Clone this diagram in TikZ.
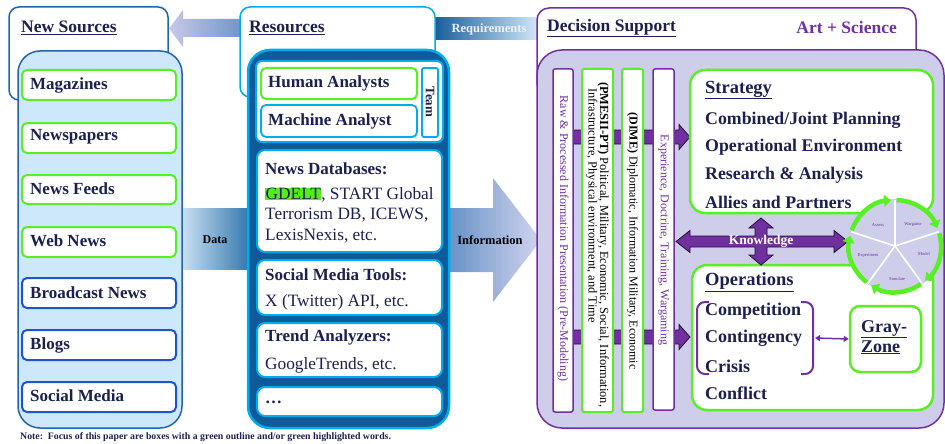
\documentclass[tikz,border=0pt]{standalone}
\usepackage{fontspec}
\setmainfont{Liberation Serif}
\usetikzlibrary{arrows.meta}
\definecolor{navy}{RGB}{28,32,78}
\definecolor{grn}{RGB}{88,240,36}
\definecolor{hlgreen}{RGB}{80,240,20}
\definecolor{purp}{RGB}{112,48,160}
\definecolor{lav}{RGB}{206,206,234}
\definecolor{lblue}{RGB}{204,232,250}
\definecolor{nsblue}{RGB}{36,100,170}
\definecolor{itblue}{RGB}{30,85,200}
\definecolor{resdark}{RGB}{15,90,155}
\definecolor{cyanb}{RGB}{0,172,236}
\definecolor{arrowL}{RGB}{200,200,232}
\definecolor{arrowR}{RGB}{110,150,200}
\definecolor{reqL}{RGB}{22,92,152}
\definecolor{reqR}{RGB}{212,232,248}
\definecolor{dataL}{RGB}{205,228,246}
\definecolor{dataR}{RGB}{50,118,172}
\definecolor{infoL}{RGB}{100,145,198}
\definecolor{infoR}{RGB}{212,212,238}
\begin{document}
\begin{tikzpicture}[x=1pt,y=-1pt,
  bt/.style={font=\fontsize{17}{18}\selectfont\bfseries, text=navy, anchor=west, inner sep=0pt},
  wt/.style={font=\fontsize{17.8}{20}\selectfont\bfseries, text=navy, anchor=west, inner sep=0pt},
  rt/.style={font=\fontsize{17.3}{18}\selectfont, text=navy, anchor=west, inner sep=0pt},
  ttl/.style={font=\fontsize{17.5}{19}\selectfont\bfseries, text=navy, anchor=west, inner sep=0pt},
  lbl/.style={font=\fontsize{12.5}{14}\selectfont\bfseries, inner sep=0pt},
  vt/.style={font=\fontsize{12}{11.5}\selectfont, rotate=-90, inner sep=0pt},
  gbox/.style={draw=grn, line width=2pt, fill=white, rounded corners=5pt},
  bbox/.style={draw=itblue, line width=2pt, fill=white, rounded corners=5pt},
  cbox/.style={draw=cyanb, line width=1.8pt, fill=white, rounded corners=5pt},
  rbox/.style={draw=cyanb, line width=2pt, fill=white, rounded corners=8pt},
  pbar/.style={draw=purp, line width=1.5pt, fill=white, rounded corners=2pt},
  gbar/.style={draw=grn, line width=2pt, fill=white, rounded corners=2pt},
  parrow/.style={fill=purp, draw=black!70!purp, line width=0.8pt},
  tiny/.style={font=\fontsize{4.5}{5}\selectfont, text=purp, inner sep=0pt},
]
\useasboundingbox (0,0) rectangle (945,444);

% ---- gradient arrows in the background
\shade[left color=arrowL, right color=arrowR] (169,28.5) -- (183,10) -- (183,19) -- (242,19) -- (242,37) -- (183,37) -- (183,47) -- cycle;
\shade[left color=reqL, right color=reqR] (433,18) rectangle (539,40);
\node[lbl, text=white!94!blue] (req) at (489,29.5) {Requirements};
\shade[left color=dataL, right color=dataR] (180,208) rectangle (250,269);
\node[lbl, font=\fontsize{12}{14}\selectfont\bfseries] (data) at (215,240) {Data};
\shade[left color=infoL, right color=infoR] (447,208) -- (493,208) -- (493,178) -- (541,240) -- (493,302) -- (493,272) -- (447,272) -- cycle;
\node[lbl] (info) at (490,240) {Information};

% ---- header boxes
\draw[nsblue, line width=1.5pt, fill=white, rounded corners=10pt] (9,7) rectangle (168,100);
\node[ttl] (nst) at (21,28) {\underline{New Sources}};
\draw[cyanb, line width=1.5pt, fill=white, rounded corners=10pt] (240,7) rectangle (435,97);
\node[ttl] (rst) at (249,28) {\underline{Resources}};
\draw[purp, line width=1.5pt, fill=white, rounded corners=12pt] (537,8) rectangle (916,95);
\node[ttl] (dst) at (547,28) {\underline{Decision Support}};
\node[ttl, anchor=east, text=purp] (art) at (897,28) {Art + Science};

% ---- New Sources column
\draw[nsblue, line width=1.5pt, fill=lblue, rounded corners=22pt] (18,51) rectangle (182,428);
\draw[gbox] (22,70) rectangle (176,100);
\node[bt] (n1) at (30,85) {Magazines};
\draw[gbox] (22,123) rectangle (176,153);
\node[bt] (n2) at (30,137) {Newspapers};
\draw[gbox] (22,175) rectangle (176,204);
\node[bt] (n3) at (30,189) {News Feeds};
\draw[gbox] (22,227) rectangle (176,257);
\node[bt] (n4) at (30,241) {Web News};
\draw[bbox] (22,278) rectangle (176,308);
\node[bt] (n5) at (30,293) {Broadcast News};
\draw[bbox] (22,330) rectangle (176,360);
\node[bt] (n6) at (30,345) {Blogs};
\draw[bbox] (22,382) rectangle (176,412);
\node[bt] (n7) at (30,396) {Social Media};

% ---- Resources column
\draw[cyanb, line width=2.5pt, fill=resdark, rounded corners=22pt] (248,50) rectangle (449,428);
\draw[rbox, rounded corners=6pt] (256,61) rectangle (443,142);
\draw[gbox] (261,68) rectangle (417,99);
\node[bt] (r1) at (268,83) {Human Analysts};
\draw[cbox] (261,105) rectangle (417,137);
\node[bt] (r2) at (268,121) {Machine Analyst};
\draw[cbox, rounded corners=2pt] (422,68) rectangle (438,137);
\node[lbl, text=navy, rotate=-90, font=\fontsize{13}{14}\selectfont\bfseries] (team) at (430,102) {Team};

\draw[rbox] (257,150) rectangle (442,252);
\node[bt] (db) at (265,169) {News Databases:};
\node[rt] (db1) at (265,195) {{\setlength\fboxsep{0.5pt}\colorbox{hlgreen}{GDELT}}, START Global};
\node[rt] (db2) at (265,215) {Terrorism DB, ICEWS,};
\node[rt] (db3) at (265,236) {LexisNexis, etc.};

\draw[rbox] (257,260) rectangle (442,315);
\node[bt] (sm) at (265,275) {Social Media Tools:};
\node[rt] (sm1) at (265,302) {X (Twitter) API, etc.};

\draw[rbox] (257,323) rectangle (442,377);
\node[bt] (ta) at (265,337) {Trend Analyzers:};
\node[rt] (ta1) at (265,365) {GoogleTrends, etc.};

\draw[rbox] (257,387) rectangle (442,416);
\node[bt] (etc) at (265,402) {…};

% ---- Decision Support
\draw[purp, line width=1.5pt, fill=lav, rounded corners=25pt] (537,50) rectangle (944,428);

% purple arrows behind bars
\path[parrow] (560,130) -- (679,130) -- (679,124.5) -- (690,137) -- (679,149.5) -- (679,144) -- (560,144) -- cycle;
\path[parrow] (560,330) -- (679,330) -- (679,324.5) -- (690,337) -- (679,349.5) -- (679,344) -- (560,344) -- cycle;

\draw[pbar] (553,69) rectangle (573,412);
\node[vt, text=purp] (b1) at (563,238.5) {Raw \& Processed Information Presentation (Pre-Modeling)};
\draw[gbar] (582,69) rectangle (613,412);
\node[vt, anchor=west, align=left, text=black, font=\fontsize{12.4}{11.5}\selectfont] (b2) at (597.5,82) {\textbf{(PMESII-PT)} Political, Military, Economic, Social, Information,\\\hspace*{6pt}Infrastructure, Physical environment, and Time};
\draw[gbar] (622,69) rectangle (643,412);
\node[vt, text=black] (b3) at (632.5,241) {\textbf{(DIME)} Diplomatic, Information Military, Economic};
\draw[pbar] (653,69) rectangle (674,410);
\node[vt, text=purp] (b4) at (663.5,240) {Experience, Doctrine, Training, Wargaming};

% Strategy box
\draw[draw=grn, line width=2.5pt, fill=white, rounded corners=15pt] (690,70) rectangle (933,213);
\node[wt, font=\fontsize{18.5}{20}\selectfont\bfseries] (st) at (705,90) {\underline{Strategy}};
\node[wt] (s1) at (705,120) {Combined/Joint Planning};
\node[wt] (s2) at (705,147.5) {Operational Environment};
\node[wt] (s3) at (705,175) {Research \& Analysis};
\node[wt] (s4) at (705,202) {Allies and Partners};

% Operations box
\draw[draw=grn, line width=2.5pt, fill=white, rounded corners=15pt] (692,265) rectangle (933,410);
\node[wt, font=\fontsize{18.5}{20}\selectfont\bfseries] (op) at (705,282) {\underline{Operations}};
\node[wt, font=\fontsize{18}{20}\selectfont\bfseries] (o1) at (705,311) {Competition};
\node[wt, font=\fontsize{18}{20}\selectfont\bfseries] (o2) at (705,338.5) {Contingency};
\node[wt, font=\fontsize{18}{20}\selectfont\bfseries] (o3) at (705,366) {Crisis};
\node[wt, font=\fontsize{18}{20}\selectfont\bfseries] (o4) at (705,393) {Conflict};
\draw[purp, line width=2pt, rounded corners=8pt] (709,302) -- (697,302) -- (697,374) -- (709,374);
\draw[purp, line width=2pt, rounded corners=8pt] (801,302) -- (813,302) -- (813,374) -- (801,374);
\node[draw=grn, line width=2.5pt, fill=white, rounded corners=10pt, minimum width=71pt, minimum height=66pt, inner sep=0pt] (gz) at (885.5,339) {};
\node[bt, anchor=north west, align=left, font=\fontsize{18}{20}\selectfont\bfseries] (gzt) at (861,320) {\underline{Gray-}\\\underline{Zone}};
\coordinate (brk) at (815,338);
\draw[purp, line width=1.5pt, {Triangle[length=5pt,width=6pt]}-{Triangle[length=5pt,width=6pt]}] (brk) -- (gz.west);

% Knowledge cross arrow
\path[parrow] (676,241.5) -- (690,230.5) -- (690,236) -- (755,236) -- (755,228) -- (749,228) -- (761,218) -- (773,228) -- (767,228) -- (767,236) -- (834,236) -- (834,230.5) -- (848,241.5) -- (834,252.5) -- (834,247) -- (767,247) -- (767,255) -- (773,255) -- (761,265) -- (749,255) -- (755,255) -- (755,247) -- (690,247) -- (690,252.5) -- cycle;
\node[lbl, text=white, font=\fontsize{13.5}{14}\selectfont\bfseries] (kn) at (761,241.5) {Knowledge};

% cycle circle
\begin{scope}[shift={(895,246)}, yscale=-1]
  \fill[lav] (0,0) circle[radius=47];
  \foreach \s in {90,18,-54,-126,-198} {
    \draw[white, line width=1.6pt] (0,0) -- (\s:46);
    \draw[grn, line width=4.5pt, -{Triangle[length=7pt,width=12pt]}] (\s+70:46) arc[start angle=\s+70, end angle=\s+5, radius=46];
  }
\end{scope}
\node[tiny] (c1) at (878,225) {Assess};
\node[tiny] (c2) at (913,225) {Wargame};
\node[tiny] (c3) at (924,254) {Model};
\node[tiny] (c4) at (897,279) {Simulate};
\node[tiny] (c5) at (868,255) {Experiment};

% note
\node[anchor=west, inner sep=0pt, font=\fontsize{9.8}{11}\selectfont\bfseries, text=navy] (note) at (20,437) {Note:\ \ Focus of this paper are boxes with a green outline and/or green highlighted words.};
\end{tikzpicture}
\end{document}
